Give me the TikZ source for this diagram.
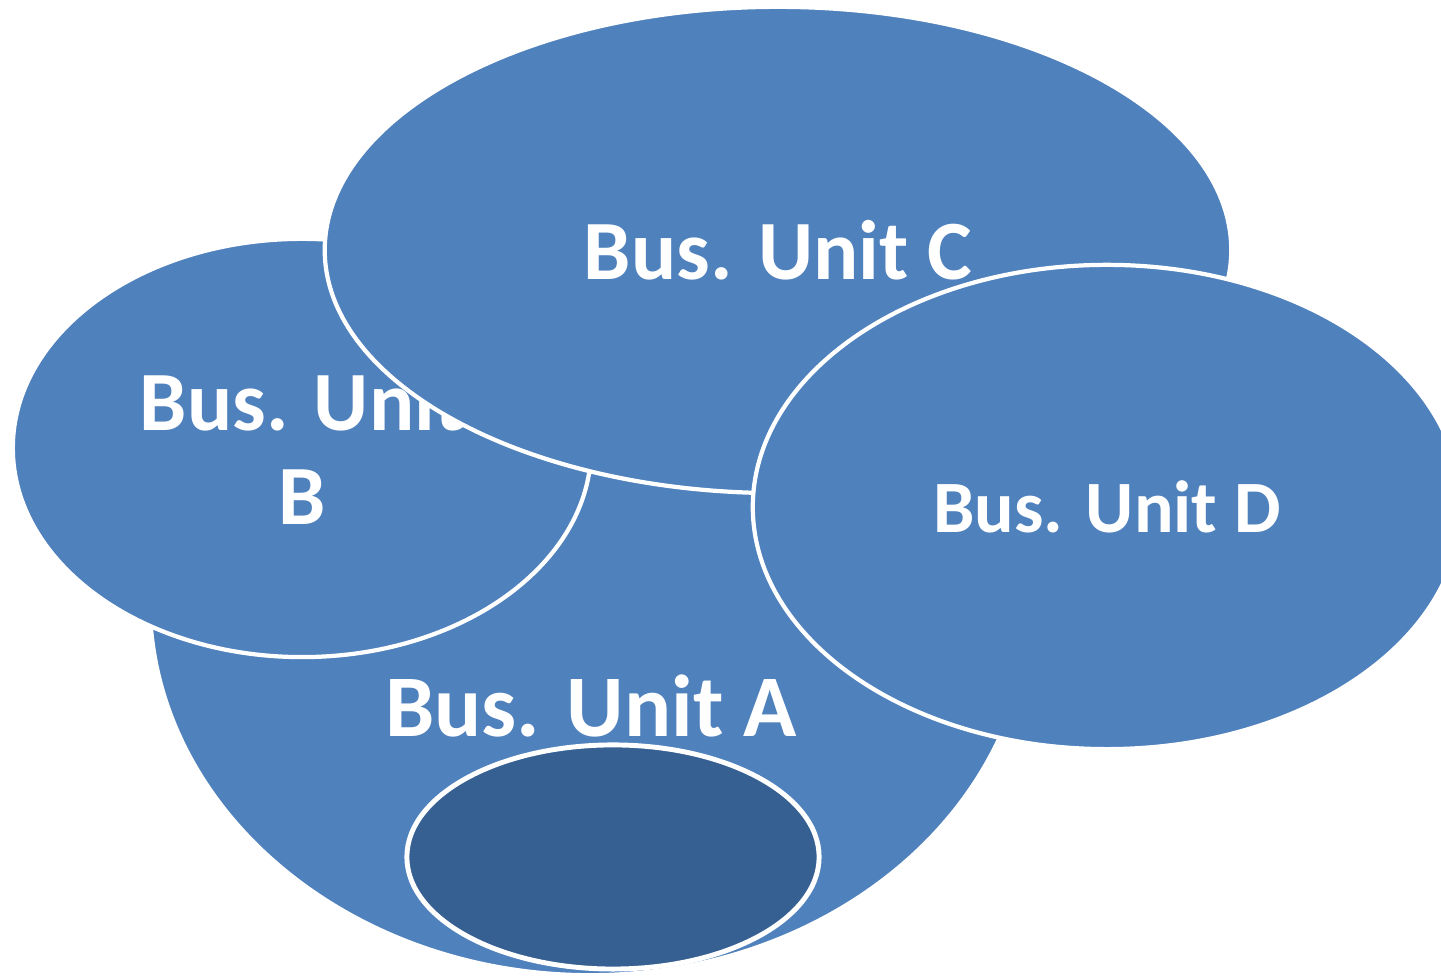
\documentclass[tikz,border=0pt]{standalone}
\usepackage{fontspec}
\setmainfont{Carlito}
\usetikzlibrary{shapes.geometric}

\definecolor{unitblue}{HTML}{4F81BD}
\definecolor{unitdark}{HTML}{376092}

\tikzset{
  unit/.style={ellipse, fill=unitblue, draw=white, line width=1.2pt,
    text=white, align=center, inner sep=0pt},
  unitfont/.style={font=\bfseries\fontsize{#1}{26.5}\selectfont},
}

\begin{document}
\begin{tikzpicture}[x=0.01cm, y=-0.01cm]

    \useasboundingbox (0, 0) rectangle (1441, 977);
    \clip (0, 0) rectangle (1441, 977);

    \coordinate (AC) at (590, 600);
    \coordinate (AT) at (591, 706);
    \coordinate (AI) at (613, 857);

    \coordinate (BC) at (302, 448);
    \coordinate (CC) at (778, 250);
    \coordinate (DC) at (1107, 507);

    \node[unit, minimum width=8.8cm, minimum height=7.5cm] (A) at (AC) {};
    \node[text=white, unitfont=25] (Alabel) at (AT) {Bus. Unit A};
    \node[unit, fill=unitdark, line width=1.4pt,
      minimum width=4.12cm, minimum height=2.24cm] (Ainner) at (AI) {};

    \node[unit, unitfont=24, minimum width=5.78cm, minimum height=4.18cm]
      (B) at (BC) {Bus. Unit\\B};
    \node[unit, unitfont=24, minimum width=9.06cm, minimum height=4.86cm]
      (C) at (CC) {Bus. Unit C};
    \node[unit, unitfont=21, minimum width=7.08cm, minimum height=4.84cm]
      (D) at (DC) {Bus. Unit D};

\end{tikzpicture}
\end{document}
